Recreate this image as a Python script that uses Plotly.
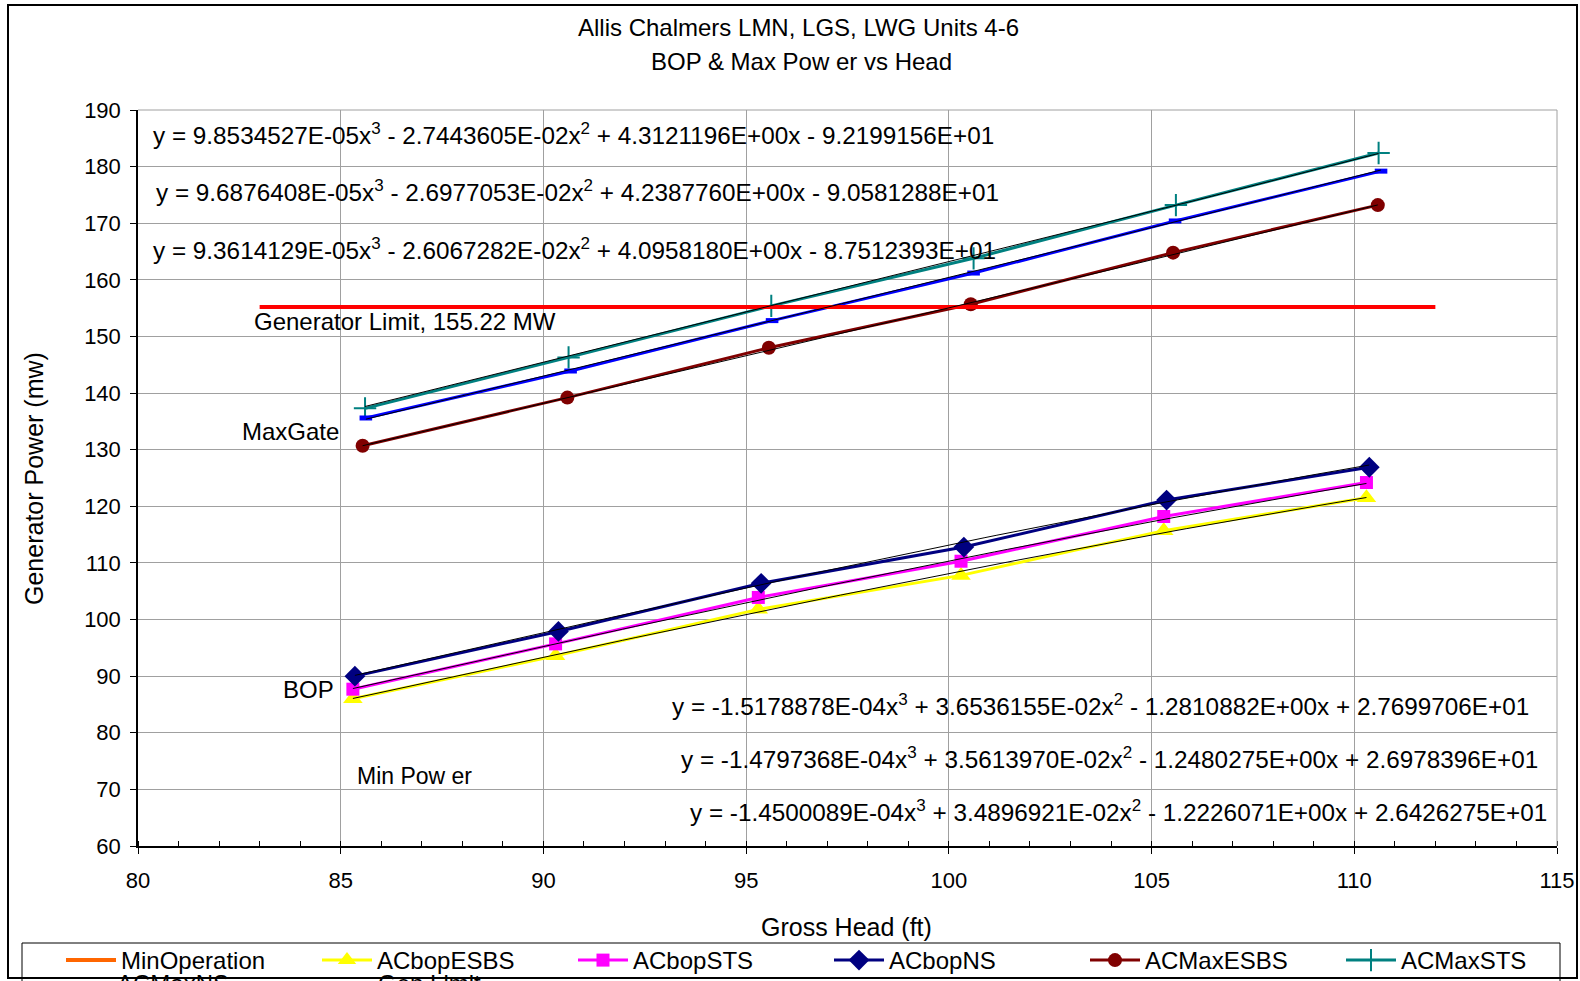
import numpy as np
import plotly.graph_objects as go

# ---------------- data ----------------
bop_esbs_x = [85.3, 90.3, 95.3, 100.3, 105.3, 110.3]
bop_esbs_y = [86.0, 93.6, 101.8, 107.8, 115.7, 121.5]
bop_sts_x = [85.3, 90.3, 95.3, 100.3, 105.3, 110.3]
bop_sts_y = [87.7, 95.7, 103.9, 110.3, 118.2, 124.2]
bop_ns_x = [85.35, 90.37, 95.37, 100.37, 105.37, 110.37]
bop_ns_y = [90.0, 97.9, 106.4, 112.8, 121.1, 126.9]
max_esbs_x = [85.54, 90.59, 95.56, 100.54, 105.53, 110.58]
max_esbs_y = [130.7, 139.2, 148.0, 155.7, 164.8, 173.2]
max_sts_x = [85.6, 90.62, 95.62, 100.61, 105.6, 110.6]
max_sts_y = [137.3, 146.3, 155.4, 163.8, 173.2, 182.4]
max_ns_x = [85.62, 90.67, 95.64, 100.61, 105.58, 110.66]
max_ns_y = [135.6, 143.9, 152.8, 161.2, 170.4, 179.2]
gen_limit_x = [83, 112]
gen_limit_y = [155.22, 155.22]

# trendline coefficients as printed on chart (x^3, x^2, x, c)
coef_max_sts = [9.8534527E-05, -2.7443605E-02, 4.3121196E+00, -9.2199156E+01]
coef_max_ns = [9.6876408E-05, -2.6977053E-02, 4.2387760E+00, -9.0581288E+01]
coef_max_esbs = [9.3614129E-05, -2.6067282E-02, 4.0958180E+00, -8.7512393E+01]
coef_bop_ns = [-1.5178878E-04, 3.6536155E-02, -1.2810882E+00, 2.7699706E+01]
coef_bop_sts = [-1.4797368E-04, 3.5613970E-02, -1.2480275E+00, 2.6978396E+01]
coef_bop_esbs = [-1.4500089E-04, 3.4896921E-02, -1.2226071E+00, 2.6426275E+01]

x_ticks = [80, 85, 90, 95, 100, 105, 110, 115]
y_ticks = [60, 70, 80, 90, 100, 110, 120, 130, 140, 150, 160, 170, 180, 190]

FONT = "Liberation Sans, Arial, sans-serif"

# plot area in pixels
L, R, T, B = 138, 1557, 110, 846
W, H = 1580, 981


def px(X):
    return (X - L) / (R - L)


def py(Y):
    return (B - Y) / (B - T)


def fmt(v):
    return "%.7E" % abs(v)


def eq_text(c):
    a, b, cc, d = c
    parts = "y = " + ("-" if a < 0 else "") + fmt(a) + "x<sup>3</sup>"
    parts += (" - " if b < 0 else " + ") + fmt(b) + "x<sup>2</sup>"
    parts += (" - " if cc < 0 else " + ") + fmt(cc) + "x"
    parts += (" - " if d < 0 else " + ") + fmt(d)
    return parts


fig = go.Figure()

fig.add_trace(go.Scatter(x=[None], y=[None], mode="lines", name="MinOperation",
                         line=dict(color="#FF6600", width=4)))

series = [
    ("ACbopESBS", bop_esbs_x, bop_esbs_y, "#FFFF00", dict(symbol="triangle-up", size=17, color="#FFFF00"), True),
    ("ACbopSTS", bop_sts_x, bop_sts_y, "#FF00FF", dict(symbol="square", size=13, color="#FF00FF"), True),
    ("ACbopNS", bop_ns_x, bop_ns_y, "#000080", dict(symbol="diamond", size=16, color="#000080"), True),
    ("ACMaxESBS", max_esbs_x, max_esbs_y, "#800000", dict(symbol="circle", size=14, color="#800000"), True),
    ("ACMaxSTS", max_sts_x, max_sts_y, "#008080", dict(symbol="cross-thin", size=16, color="#008080",
                                                        line=dict(color="#008080", width=2)), True),
    ("ACMaxNS", max_ns_x, max_ns_y, "#0000FF", dict(symbol="line-ew", size=9, color="#0000FF",
                                                      line=dict(color="#0000FF", width=5)), False),
]
for name, xs, ys, col, mk, sl in series:
    fig.add_trace(go.Scatter(x=xs, y=ys, mode="lines+markers", name=name,
                             line=dict(color=col, width=3), marker=mk, showlegend=sl))

fig.add_trace(go.Scatter(x=gen_limit_x, y=gen_limit_y, mode="lines", name="Gen Limit",
                         line=dict(color="#FF0000", width=4), showlegend=False))

# polynomial trendlines (black)
for xs, c in [(bop_esbs_x, coef_bop_esbs), (bop_sts_x, coef_bop_sts), (bop_ns_x, coef_bop_ns),
              (max_esbs_x, coef_max_esbs), (max_sts_x, coef_max_sts), (max_ns_x, coef_max_ns)]:
    xx = np.linspace(xs[0], xs[-1], 80)
    fig.add_trace(go.Scatter(x=xx, y=np.polyval(c, xx), mode="lines", showlegend=False,
                             hoverinfo="skip", line=dict(color="black", width=1)))

ann = []


def add(text, X, Y, xa="center", size=24, angle=0, ya="middle"):
    ann.append(dict(text=text, x=px(X), y=py(Y), xref="paper", yref="paper", xanchor=xa,
                    yanchor=ya, showarrow=False, textangle=angle,
                    font=dict(family=FONT, size=size, color="black")))


add("Allis Chalmers LMN, LGS, LWG Units 4-6", 798, 28)
add("BOP & Max Pow er vs Head", 801, 62)
add(eq_text(coef_max_sts), 151, 134, "left", size=24.3)
add(eq_text(coef_max_ns), 154, 191, "left", size=24.3)
add(eq_text(coef_max_esbs), 151, 249, "left", size=24.3)
add(eq_text(coef_bop_ns), 1531, 705, "right", size=24.3)
add(eq_text(coef_bop_sts), 1540, 758, "right", size=24.3)
add(eq_text(coef_bop_esbs), 1549, 811, "right", size=24.3)
add("Generator Limit, 155.22 MW", 252, 321, "left")
add("MaxGate", 341, 431, "right")
add("BOP", 336, 689, "right")
add("Min Pow er", 355, 776, "left", size=23)
add("Gross Head (ft)", 846, 927, size=25)
add("Generator Power (mw)", 34, 478, angle=-90, size=25)
# cut-off second legend row
add("ACMaxNS", 115, 968, "left", ya="top")
add("Gen Limit", 376, 968, "left", ya="top")

shapes = [
    # legend frame
    dict(type="rect", xref="paper", yref="paper", x0=px(22), x1=px(1560), y0=py(990), y1=py(943),
         line=dict(color="black", width=1), layer="above"),
    # chart frame
    dict(type="rect", xref="paper", yref="paper", x0=px(8), x1=px(1577), y0=py(978), y1=py(5),
         line=dict(color="black", width=2), layer="above"),
    # right and top plot borders
    dict(type="line", xref="paper", yref="paper", x0=1, x1=1, y0=0, y1=1,
         line=dict(color="#A0A0A0", width=1)),
    dict(type="line", xref="paper", yref="paper", x0=0, x1=1, y0=1, y1=1,
         line=dict(color="#A0A0A0", width=1)),
]

fig.update_layout(
    width=W, height=H,
    margin=dict(l=L, r=W - R, t=T, b=H - B, autoexpand=False),
    paper_bgcolor="white", plot_bgcolor="white",
    font=dict(family=FONT, size=22, color="black"),
    annotations=ann, shapes=shapes,
    showlegend=True,
    legend=dict(orientation="h", x=px(61), y=py(938), xanchor="left", yanchor="top",
                borderwidth=0, bgcolor="rgba(0,0,0,0)",
                entrywidth=191, entrywidthmode="pixels", itemwidth=50,
                font=dict(family=FONT, size=24, color="black"), traceorder="normal"),
    xaxis=dict(range=[80, 115], tickvals=x_ticks, ticktext=[str(v) for v in x_ticks],
               showgrid=True, gridcolor="#A0A0A0", gridwidth=1,
               showline=True, linecolor="black", linewidth=1.5, mirror=False,
               ticks="outside", ticklen=6, tickcolor="black", ticklabelstandoff=8,
               minor=dict(dtick=1, ticks="inside", ticklen=5, tickcolor="black", showgrid=False),
               zeroline=False, tickfont=dict(family=FONT, size=22)),
    yaxis=dict(range=[60, 190], tickvals=y_ticks, showgrid=True, gridcolor="#A0A0A0", gridwidth=1,
               showline=True, linecolor="black", linewidth=1.5,
               ticks="outside", ticklen=6, tickcolor="black", zeroline=False, ticklabelstandoff=5,
               tickfont=dict(family=FONT, size=22)),
)

fig.write_html("out.html", config={"displayModeBar": False},
               post_script="document.body.style.margin='0px';document.body.style.overflow='hidden';")
